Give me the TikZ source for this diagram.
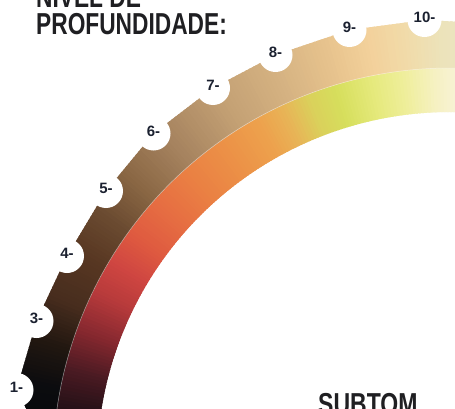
\documentclass[tikz,border=0pt]{standalone}
\usepackage{fontspec}
\setmainfont{Liberation Sans}
\usepackage{graphicx}
% outer band stops
\definecolor{o0}{HTML}{050608}
\definecolor{o1}{HTML}{0B0C0F}
\definecolor{o2}{HTML}{221710}
\definecolor{o3}{HTML}{472D1E}
\definecolor{o4}{HTML}{583722}
\definecolor{o5}{HTML}{6B4B31}
\definecolor{o6}{HTML}{8A6744}
\definecolor{o7}{HTML}{A5825E}
\definecolor{o8}{HTML}{C3A074}
\definecolor{o9}{HTML}{D7B483}
\definecolor{o10}{HTML}{E8C48E}
\definecolor{o11}{HTML}{F3D19B}
\definecolor{o12}{HTML}{F1DBA9}
\definecolor{o13}{HTML}{ECE3BB}
\definecolor{o14}{HTML}{EAE6C6}
% inner band stops
\definecolor{i0}{HTML}{160A0D}
\definecolor{i1}{HTML}{221016}
\definecolor{i2}{HTML}{4A1A22}
\definecolor{i3}{HTML}{86282F}
\definecolor{i4}{HTML}{B73A3B}
\definecolor{i5}{HTML}{CF4641}
\definecolor{i6}{HTML}{DF5A40}
\definecolor{i7}{HTML}{E66E42}
\definecolor{i8}{HTML}{EA8043}
\definecolor{i9}{HTML}{EC9247}
\definecolor{i10}{HTML}{EDA24D}
\definecolor{i11}{HTML}{E8B457}
\definecolor{i12}{HTML}{DAD15B}
\definecolor{i13}{HTML}{D6DE5C}
\definecolor{i14}{HTML}{E4E979}
\definecolor{i15}{HTML}{EFEE9A}
\definecolor{i16}{HTML}{F6F1C4}
\definecolor{i17}{HTML}{F8F3DA}
\definecolor{i18}{HTML}{FAF6E8}
\definecolor{labelink}{HTML}{1B2130}
\definecolor{titleink}{HTML}{1F1F22}
\tikzset{
  dot/.style={circle, fill=white, minimum size=34pt, inner sep=0pt},
  lbl/.style={text=labelink, font=\fontsize{15}{16}\selectfont\bfseries, inner sep=0pt},
  ttl/.style={text=titleink, font=\fontsize{30.3}{30}\selectfont\bfseries, inner sep=0pt, anchor=base west},
}
\begin{document}
\begin{tikzpicture}[x=1pt,y=1pt]
\useasboundingbox (0,0) rectangle (455,408);
\clip (0,0) rectangle (455,408);
\fill[white] (0,0) rectangle (455,408);
% circle centres
\coordinate (p1) at (16.5,18);
\coordinate (p3) at (36.5,87);
\coordinate (p4) at (67,152);
\coordinate (p5) at (106,217);
\coordinate (p6) at (153.5,274.5);
\coordinate (p7) at (213,320);
\coordinate (p8) at (275.5,353);
\coordinate (p9) at (349.5,378);
\coordinate (p10) at (424.5,388);
\coordinate (q0) at (40,-60);
\coordinate (q1) at (29,-6);
\coordinate (q2) at (500,384);
\coordinate (q3) at (500,-60);
\begin{scope}[shift={(450,-57)}]
  % inner band
  \foreach \a/\b/\ca/\cb in {178/172/i0/i1,172/166/i1/i2,166/160/i2/i3,160/154/i3/i4,154/149/i4/i5,149/144/i5/i6,144/138/i6/i7,138/132/i7/i8,132/125/i8/i9,125/119/i9/i10,119/115/i10/i11,115/111/i11/i12,111/107/i12/i13,107/102/i13/i14,102/97/i14/i15,97/92/i15/i16,92/88/i16/i17,88/84/i17/i18}{
    \pgfmathtruncatemacro\n{(\a-\b)*2}
    \foreach \i in {1,...,\n}{
      \pgfmathsetmacro\t{\a-(\i-1)*0.5}
      \pgfmathsetmacro\u{\t-0.8}
      \pgfmathtruncatemacro\p{round(100*(\i-0.5)/\n)}
      \fill[fill=\cb!\p!\ca] (\t:353) arc[start angle=\t, end angle=\u, radius=353] -- (\u:398) arc[start angle=\u, end angle=\t, radius=398] -- cycle;
    }
  }
  % outer band
  \begin{scope}
    \clip (q0) -- (q1) -- (p1) -- (p3) -- (p4) -- (p5) -- (p6) -- (p7) -- (p8) -- (p9) -- (p10) -- (q2) -- (q3) -- cycle;
    \foreach \a/\b/\ca/\cb in {178/169/o0/o1,169/163/o1/o2,163/157/o2/o3,157/150/o3/o4,150/144/o4/o5,144/138/o5/o6,138/131/o6/o7,131/122/o7/o8,122/113/o8/o9,113/106/o9/o10,106/101/o10/o11,101/96/o11/o12,96/91/o12/o13,91/84/o13/o14}{
      \pgfmathtruncatemacro\n{(\a-\b)*2}
      \foreach \i in {1,...,\n}{
        \pgfmathsetmacro\t{\a-(\i-1)*0.5}
        \pgfmathsetmacro\u{\t-0.8}
        \pgfmathtruncatemacro\p{round(100*(\i-0.5)/\n)}
        \fill[fill=\cb!\p!\ca] (\t:397) arc[start angle=\t, end angle=\u, radius=397] -- (\u:470) arc[start angle=\u, end angle=\t, radius=470] -- cycle;
      }
    }
  \end{scope}
  \draw[white, opacity=0.55, line width=0.5pt] (178:397) arc[start angle=178, end angle=84, radius=397];
\end{scope}
% white notches with numbers
\foreach \k in {1,3,4,5,6,7,8,9,10}{
  \node[dot] (n\k) at (p\k) {};
  \node[lbl] (l\k) at ([yshift=2.5pt]n\k.center) {\k-};
}
% titles
\node[ttl] (t1) at (36,400.7) {\scalebox{0.75}[1]{NÍVEL DE}};
\node[ttl] (t2) at (36,373) {\scalebox{0.75}[1]{PROFUNDIDADE:}};
\node[ttl] (t3) at (318,-6.7) {\scalebox{0.76}[1]{SUBTOM}};
\end{tikzpicture}
\end{document}
